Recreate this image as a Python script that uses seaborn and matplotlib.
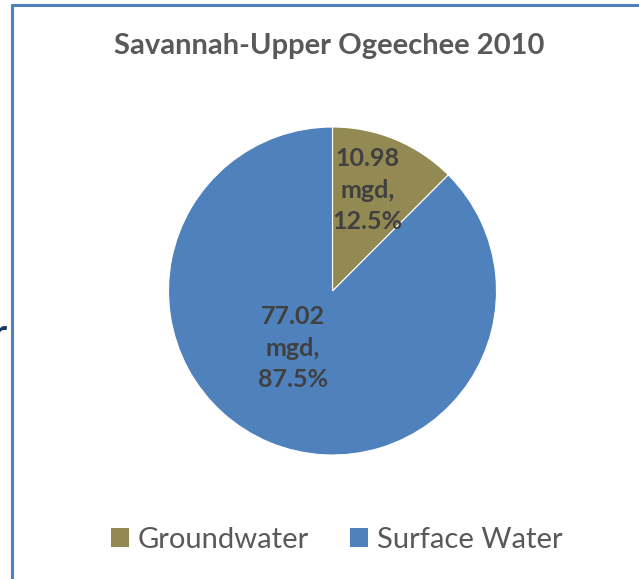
import matplotlib
matplotlib.use("Agg")
import matplotlib.pyplot as plt
from matplotlib.patches import Patch
from matplotlib.lines import Line2D
import seaborn as sns

# Water withdrawal by source, million gallons per day (mgd)
sources = ["Groundwater", "Surface Water"]
withdrawals_mgd = [10.98, 77.02]
colors = ["#938953", "#4F81BD"]
title = "Savannah-Upper Ogeechee 2010"

sns.set_theme(style="white")
plt.rcParams["font.family"] = ["Lato", "DejaVu Sans"]

W, H = 639, 579
fig = plt.figure(figsize=(W / 100, H / 100), dpi=100)
fig.patch.set_facecolor("white")

# Pie axes: centre and radius in pixels
cx, cy, r = 332.5, 291, 164
ax = fig.add_axes([(cx - r) / W, (H - cy - r) / H, 2 * r / W, 2 * r / H])
wedges, _ = ax.pie(withdrawals_mgd, colors=colors, startangle=90,
                   counterclock=False, radius=1,
                   wedgeprops=dict(linewidth=0.8, edgecolor="white"))
ax.set_xlim(-1, 1)
ax.set_ylim(-1, 1)
ax.set_aspect("equal")
ax.axis("off")

total = sum(withdrawals_mgd)
label_pos = [(0.215, 0.615), (-0.24, -0.35)]
for val, (lx, ly) in zip(withdrawals_mgd, label_pos):
    ax.text(lx, ly, f"{val:.2f}\nmgd,\n{val / total * 100:.1f}%",
            ha="center", va="center", fontsize=18, fontweight="bold",
            color="#404040", linespacing=1.45)

fig.text(0.515, 1 - 46 / H, title, ha="center", va="center", fontsize=21,
         fontweight="bold", color="#595959")

handles = [Patch(facecolor=c, edgecolor="none") for c in colors]
fig.legend(handles, sources, loc="center", bbox_to_anchor=(0.527, 1 - 540 / H),
           ncol=2, frameon=False, fontsize=21, handlelength=0.62,
           handleheight=0.62, handletextpad=0.3, columnspacing=1.4,
           labelcolor="#595959", borderaxespad=0, borderpad=0)

# Chart frame (top and left edges)
frame = "#4F81BD"
fig.add_artist(Line2D([12 / W, 1], [1 - 5 / H, 1 - 5 / H], color=frame,
                      lw=2.2, transform=fig.transFigure))
fig.add_artist(Line2D([12 / W, 12 / W], [0, 1 - 5 / H], color=frame,
                      lw=2.2, transform=fig.transFigure))

# Edge of neighbouring slide text, clipped by the frame border
fig.text(-8 / W, 1 - 346 / H, "r", ha="left", va="baseline", fontsize=28,
         color="#17375E")

fig.savefig("out.png", dpi=100, facecolor="white")
